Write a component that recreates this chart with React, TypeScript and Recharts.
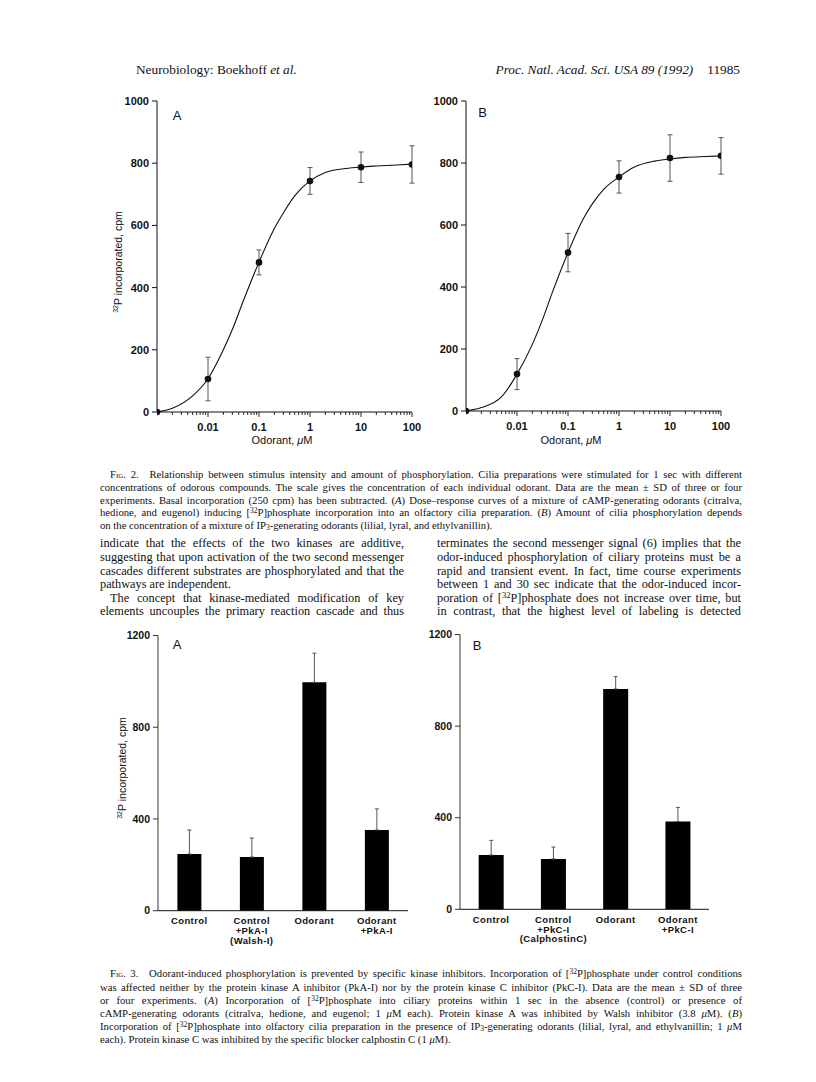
import React from "react";
import {Bar, BarChart, ComposedChart, ErrorBar, Label, Line, Scatter, XAxis, YAxis} from "recharts";

// Fig. 2: odorant dose (uM); 0.001 stands for the zero-odorant point at the origin
const doses = [0.001, 0.01, 0.1, 1, 10, 100];
const meanA = [0, 106, 481, 743, 787, 796];
const sdA = [0, 70, 40, 43, 49, 60];
const meanB = [0, 119, 511, 755, 816, 823];
const sdB = [0, 50, 62, 52, 75, 59];

// fitted curves
const fitX = [0.001, 0.002, 0.005, 0.01, 0.02, 0.03, 0.05, 0.1, 0.2, 0.3, 0.5, 1, 2, 5, 10, 20, 50, 100];
const fitA = [0, 12, 52, 107, 200, 265, 360, 482, 590, 640, 695, 743, 770, 783, 788, 791, 794, 797];
const fitB = [0, 11, 46, 119, 215, 285, 385, 511, 620, 668, 715, 755, 787, 806, 813, 818, 821, 823];

const majorTicks = [0.01, 0.1, 1, 10, 100];
const decades = [0.001, 0.01, 0.1, 1, 10];
const minorSteps = [2, 3, 4, 5, 6, 7, 8, 9];
const logTicks = [...decades.flatMap((d) => minorSteps.map((m) => m * d)), ...majorTicks].sort((a, b) => a - b);
const doseYTicks = [0, 200, 400, 600, 800, 1000];

// Fig. 3: inhibitor bars
const labelsA = ["Control", "Control\n+PkA-I\n(Walsh-I)", "Odorant", "Odorant\n+PkA-I"];
const barMeanA = [247, 234, 996, 352];
const barSdA = [105, 83, 127, 92];
const labelsB = ["Control", "Control\n+PkC-I\n(CalphostinC)", "Odorant", "Odorant\n+PkC-I"];
const barMeanB = [237, 220, 962, 383];
const barSdB = [64, 52, 54, 62];
const barYTicks = [0, 400, 800, 1200];

const sans = "'Liberation Sans', Arial, sans-serif";
const serif = "'Liberation Serif', 'Times New Roman', serif";
const ink = "#111";

const renderLogTick = (props: any) => {
    const {x, y, payload} = props;
    const v = payload.value;
    const major = majorTicks.includes(v);
    return (
        <g>
            <line x1={x} x2={x} y1={y} y2={y + (major ? 5 : 3)} stroke={ink} strokeWidth={0.9}/>
            {major && (
                <text x={x} y={y + 19} textAnchor="middle" fontFamily={sans} fontSize={11} fontWeight={700} fill={ink}>
                    {String(v)}
                </text>
            )}
        </g>
    );
};

const renderBarTick = (props: any) => {
    const {x, y, payload} = props;
    const lines = String(payload.value).split("\n");
    return (
        <text x={x} y={y + 13.5} textAnchor="middle" fontFamily={sans} fontSize={9.5} fontWeight={700} letterSpacing={0.4} fill={ink}>
            {lines.map((l, i) => (
                <tspan key={i} x={x} dy={i === 0 ? 0 : 9.8}>{l}</tspan>
            ))}
        </text>
    );
};

const yTitle = (cx: number, cy: number) => (
    <text transform={`translate(${cx},${cy}) rotate(-90)`} textAnchor="middle" dominantBaseline="central"
          fontFamily={sans} fontSize={10.5} fill={ink}>
        <tspan fontSize={7} dy={-3.5}>32</tspan>
        <tspan dy={3.5}>P incorporated, cpm</tspan>
    </text>
);

const panelLetter = (letter: string, x: number, y: number) => (
    <text x={x} y={y} textAnchor="middle" fontFamily={sans} fontSize={13} fill={ink}>{letter}</text>
);

function DoseChart(p: any) {
    const points = doses.map((x, i) => ({x, y: p.mean[i], err: p.sd[i]}));
    const curve = fitX.map((x, i) => ({x, y: p.fit[i]}));
    return (
        <div style={{position: "absolute", left: p.left, top: p.top}}>
            <ComposedChart width={370} height={380} margin={p.margin}>
                <XAxis type="number" dataKey="x" scale="log" domain={[0.001, 100]} allowDataOverflow
                       ticks={logTicks} interval={0} tickLine={false} tickSize={0} tickMargin={0}
                       tick={renderLogTick} height={34} stroke={ink}>
                    <Label content={() => (
                        <text x={p.xLabelX} y={p.xLabelY} textAnchor="middle" fontFamily={sans} fontSize={11} fill={ink}>
                            Odorant, <tspan fontStyle="italic">μ</tspan>M
                        </text>
                    )}/>
                </XAxis>
                <YAxis type="number" domain={[0, 1000]} ticks={doseYTicks} interval={0} width={40}
                       tickSize={5} tickMargin={3} stroke={ink}
                       tick={{fontSize: 11, fontWeight: 700, fill: ink, fontFamily: sans}}>
                    <Label content={() => (
                        <g>
                            {p.yLabel && yTitle(p.yLabelX, p.yLabelY)}
                            {panelLetter(p.letter, p.letterX, p.letterY)}
                        </g>
                    )}/>
                </YAxis>
                <Line data={curve} dataKey="y" type="monotone" stroke={ink} strokeWidth={1.1} dot={false}
                      isAnimationActive={false}/>
                <Scatter data={points} dataKey="y" fill={ink} isAnimationActive={false}
                         shape={(s: any) => <circle cx={s.cx} cy={s.cy} r={3.3} fill={ink}/>}>
                    <ErrorBar dataKey="err" direction="y" width={2.5} stroke="#555" strokeWidth={1}/>
                </Scatter>
            </ComposedChart>
        </div>
    );
}

function BarPanel(p: any) {
    const rows = p.labels.map((name: string, i: number) => ({name, mean: p.means[i], err: [0, p.sds[i]]}));
    return (
        <div style={{position: "absolute", left: p.left, top: p.top}}>
            <BarChart width={370} height={370} data={rows} margin={p.margin} barCategoryGap={p.gap}>
                <XAxis dataKey="name" type="category" interval={0} tickLine={false} tickSize={0} tickMargin={0}
                       height={40} stroke={ink} tick={renderBarTick}/>
                <YAxis type="number" domain={[0, 1200]} ticks={barYTicks} interval={0} width={40}
                       tickSize={5} tickMargin={3} stroke="#333"
                       tick={{fontSize: 10.5, fontWeight: 700, fill: ink, fontFamily: sans}}>
                    <Label content={() => (
                        <g>
                            {p.yLabel && yTitle(p.yLabelX, p.yLabelY)}
                            {panelLetter(p.letter, p.letterX, p.letterY)}
                        </g>
                    )}/>
                </YAxis>
                <Bar dataKey="mean" fill="#000" isAnimationActive={false}>
                    <ErrorBar dataKey="err" direction="y" width={2} stroke="#555" strokeWidth={1}/>
                </Bar>
            </BarChart>
        </div>
    );
}

function Row(p: any) {
    return (
        <div style={{
            position: "absolute", left: p.x, top: p.y - 0.707 * p.size, width: p.w,
            fontFamily: serif, fontSize: p.size, lineHeight: `${p.size * 1.2}px`, color: ink,
            textAlign: "justify", textAlignLast: p.last ? "left" : "justify", textIndent: p.indent || 0,
        }}>
            {p.children}
        </div>
    );
}

const Sup = ({children}: any) => (
    <sup style={{fontSize: "0.7em", lineHeight: 0, verticalAlign: "0.45em"}}>{children}</sup>
);
const Sub = ({children}: any) => (
    <sub style={{fontSize: "0.7em", lineHeight: 0, verticalAlign: "-0.2em"}}>{children}</sub>
);
const Sc = ({children}: any) => <span style={{fontVariant: "small-caps"}}>{children}</span>;

export default function App() {
    const capX = 100, capW = 642, capS = 10.7;
    const c2 = (i: number) => 476 + 12.6 * i;
    const b = (i: number) => 545 + 13.6 * i;
    const c3 = (i: number) => 975 + 13.2 * i;
    const colW = 304, rightX = 437, bodyS = 12.3;
    return (
        <div style={{position: "absolute", left: 0, top: 0, width: 816, height: 1082, background: "#fff", overflow: "hidden"}}>
            <div style={{position: "absolute", left: 136, top: 62, fontFamily: serif, fontSize: 13.3, color: ink}}>
                Neurobiology: Boekhoff <i>et al.</i>
            </div>
            <div style={{position: "absolute", right: 76, top: 62, fontFamily: serif, fontSize: 13.3, color: ink}}>
                <i>Proc. Natl. Acad. Sci. USA 89 (1992)</i><span style={{marginLeft: 14}}>11985</span>
            </div>

            <DoseChart left={60} top={80} mean={meanA} sd={sdA} fit={fitA}
                       margin={{top: 21, right: 18, left: 57, bottom: 14}}
                       xLabelX={222} xLabelY={364} yLabel yLabelX={58} yLabelY={182}
                       letter="A" letterX={117} letterY={39.5}/>
            <DoseChart left={370} top={80} mean={meanB} sd={sdB} fit={fitB}
                       margin={{top: 21, right: 19, left: 56, bottom: 15}}
                       xLabelX={201} xLabelY={364} yLabel={false}
                       letter="B" letterX={112.5} letterY={36.7}/>

            <Row x={capX} y={c2(0)} w={capW} size={capS} indent={10}>
                <Sc>Fig. 2.</Sc>{"\u2003"}Relationship between stimulus intensity and amount of phosphorylation. Cilia preparations were stimulated for 1 sec with different
            </Row>
            <Row x={capX} y={c2(1)} w={capW} size={capS}>
                concentrations of odorous compounds. The scale gives the concentration of each individual odorant. Data are the mean ± SD of three or four
            </Row>
            <Row x={capX} y={c2(2)} w={capW} size={capS}>
                experiments. Basal incorporation (250 cpm) has been subtracted. (<i>A</i>) Dose–response curves of a mixture of cAMP-generating odorants (citralva,
            </Row>
            <Row x={capX} y={c2(3)} w={capW} size={capS}>
                hedione, and eugenol) inducing [<Sup>32</Sup>P]phosphate incorporation into an olfactory cilia preparation. (<i>B</i>) Amount of cilia phosphorylation depends
            </Row>
            <Row x={capX} y={c2(4)} w={capW} size={capS} last>
                on the concentration of a mixture of IP<Sub>3</Sub>-generating odorants (lilial, lyral, and ethylvanillin).
            </Row>

            <Row x={capX} y={b(0)} w={colW} size={bodyS}>indicate that the effects of the two kinases are additive,</Row>
            <Row x={capX} y={b(1)} w={colW} size={bodyS}>suggesting that upon activation of the two second messenger</Row>
            <Row x={capX} y={b(2)} w={colW} size={bodyS}>cascades different substrates are phosphorylated and that the</Row>
            <Row x={capX} y={b(3)} w={colW} size={bodyS} last>pathways are independent.</Row>
            <Row x={capX} y={b(4)} w={colW} size={bodyS} indent={10}>The concept that kinase-mediated modification of key</Row>
            <Row x={capX} y={b(5)} w={colW} size={bodyS}>elements uncouples the primary reaction cascade and thus</Row>

            <Row x={rightX} y={b(0)} w={colW} size={bodyS}>terminates the second messenger signal (6) implies that the</Row>
            <Row x={rightX} y={b(1)} w={colW} size={bodyS}>odor-induced phosphorylation of ciliary proteins must be a</Row>
            <Row x={rightX} y={b(2)} w={colW} size={bodyS}>rapid and transient event. In fact, time course experiments</Row>
            <Row x={rightX} y={b(3)} w={colW} size={bodyS}>between 1 and 30 sec indicate that the odor-induced incor-</Row>
            <Row x={rightX} y={b(4)} w={colW} size={bodyS}>poration of [<Sup>32</Sup>P]phosphate does not increase over time, but</Row>
            <Row x={rightX} y={b(5)} w={colW} size={bodyS}>in contrast, that the highest level of labeling is detected</Row>

            <BarPanel left={60} top={600} labels={labelsA} means={barMeanA} sds={barSdA} gap="31%"
                      margin={{top: 35.5, right: 22, left: 58, bottom: 19.3}}
                      yLabel yLabelX={62} yLabelY={168} letter="A" letterX={117} letterY={48.5}/>
            <BarPanel left={370} top={600} labels={labelsB} means={barMeanB} sds={barSdB} gap="30%"
                      margin={{top: 34.5, right: 31, left: 50, bottom: 20.7}}
                      yLabel={false} letter="B" letterX={107} letterY={49.5}/>

            <Row x={capX} y={c3(0)} w={capW} size={capS} indent={10}>
                <Sc>Fig. 3.</Sc>{"\u2003"}Odorant-induced phosphorylation is prevented by specific kinase inhibitors. Incorporation of [<Sup>32</Sup>P]phosphate under control conditions
            </Row>
            <Row x={capX} y={c3(1)} w={capW} size={capS}>
                was affected neither by the protein kinase A inhibitor (PkA-I) nor by the protein kinase C inhibitor (PkC-I). Data are the mean ± SD of three
            </Row>
            <Row x={capX} y={c3(2)} w={capW} size={capS}>
                or four experiments. (<i>A</i>) Incorporation of [<Sup>32</Sup>P]phosphate into ciliary proteins within 1 sec in the absence (control) or presence of
            </Row>
            <Row x={capX} y={c3(3)} w={capW} size={capS}>
                cAMP-generating odorants (citralva, hedione, and eugenol; 1 <i>μ</i>M each). Protein kinase A was inhibited by Walsh inhibitor (3.8 <i>μ</i>M). (<i>B</i>)
            </Row>
            <Row x={capX} y={c3(4)} w={capW} size={capS}>
                Incorporation of [<Sup>32</Sup>P]phosphate into olfactory cilia preparation in the presence of IP<Sub>3</Sub>-generating odorants (lilial, lyral, and ethylvanillin; 1 <i>μ</i>M
            </Row>
            <Row x={capX} y={c3(5)} w={capW} size={capS} last>
                each). Protein kinase C was inhibited by the specific blocker calphostin C (1 <i>μ</i>M).
            </Row>
        </div>
    );
}
